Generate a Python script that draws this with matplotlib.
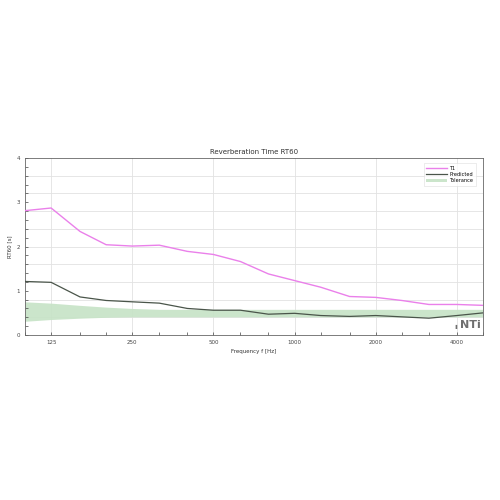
import numpy as np
import matplotlib
matplotlib.use("Agg")
import matplotlib.pyplot as plt
from matplotlib.ticker import FixedLocator, NullFormatter

freqs = [100, 125, 160, 200, 250, 315, 400, 500, 630, 800, 1000, 1250, 1600, 2000, 2500, 3150, 4000, 5000]
t1 = [2.81, 2.87, 2.34, 2.04, 2.01, 2.03, 1.89, 1.82, 1.66, 1.38, 1.23, 1.08, 0.87, 0.85, 0.78, 0.69, 0.69, 0.67]
predicted = [1.21, 1.19, 0.86, 0.78, 0.75, 0.72, 0.60, 0.56, 0.56, 0.47, 0.49, 0.44, 0.42, 0.44, 0.41, 0.38, 0.44, 0.50]
tol_upper = [0.75, 0.72, 0.67, 0.63, 0.60, 0.58, 0.58, 0.58, 0.58, 0.58, 0.58, 0.58, 0.58, 0.58, 0.58, 0.58, 0.58, 0.58]
tol_lower = [0.31, 0.35, 0.38, 0.40, 0.41, 0.41, 0.41, 0.41, 0.41, 0.41, 0.41, 0.41, 0.41, 0.41, 0.41, 0.41, 0.41, 0.41]
major_ticks = [125, 250, 500, 1000, 2000, 4000]
major_labels = ["125", "250", "500", "1000", "2000", "4000"]

fig = plt.figure(figsize=(5, 5), dpi=100)
ax = fig.add_axes([0.05, 0.33, 0.916, 0.354])
ax.set_xscale("log")
ax.set_xlim(100, 5000)
ax.set_ylim(0, 4)

for y in np.arange(0.4, 4.0, 0.4):
    ax.axhline(y, color="#e2e2e2", lw=0.6, zorder=0)
for x in major_ticks:
    ax.axvline(x, color="#e2e2e2", lw=0.6, zorder=0)

ax.fill_between(freqs, tol_lower, tol_upper, color="#c6e3c6", alpha=0.9, lw=0, label="Tolerance", zorder=1)
ax.plot(freqs, t1, color="#ea80ea", lw=1.0, label="T1", zorder=3)
ax.plot(freqs, predicted, color="#4a554a", lw=0.9, label="Predicted", zorder=3)

ax.xaxis.set_major_locator(FixedLocator(major_ticks))
ax.set_xticklabels(major_labels)
ax.xaxis.set_minor_locator(FixedLocator(freqs))
ax.xaxis.set_minor_formatter(NullFormatter())
ax.yaxis.set_major_locator(FixedLocator([0, 1, 2, 3, 4]))
ax.yaxis.set_minor_locator(FixedLocator(np.arange(0, 4.01, 0.2)))
ax.tick_params(axis="both", which="both", direction="in", labelsize=4, colors="#444444", length=2.5, width=0.5)
ax.tick_params(axis="both", which="minor", length=2)
for s in ax.spines.values():
    s.set_color("#666666")
    s.set_linewidth(0.6)

ax.set_title("Reverberation Time RT60", fontsize=5, color="#333333", pad=3)
ax.set_xlabel("Frequency f [Hz]", fontsize=4, color="#333333", labelpad=3)
ax.set_ylabel("RT60 [s]", fontsize=4, color="#333333", labelpad=3)

handles, labels = ax.get_legend_handles_labels()
order = [labels.index("T1"), labels.index("Predicted"), labels.index("Tolerance")]
leg = ax.legend([handles[i] for i in order], [labels[i] for i in order], loc="upper right",
                fontsize=3.6, frameon=True, fancybox=False, edgecolor="#dddddd",
                handlelength=4.2, borderpad=0.5, labelspacing=0.25, handletextpad=0.4,
                bbox_to_anchor=(0.99, 0.985))
leg.get_frame().set_linewidth(0.5)

ax.text(0.995, 0.03, "NTi", transform=ax.transAxes, ha="right", va="bottom",
        fontsize=8, fontweight="bold", color="#6f6f6f", zorder=5)
ax.text(0.943, 0.035, "\u2590", transform=ax.transAxes, ha="right", va="bottom",
        fontsize=3, color="#6f6f6f", zorder=5)

fig.savefig("out.png", dpi=100, facecolor="white")
